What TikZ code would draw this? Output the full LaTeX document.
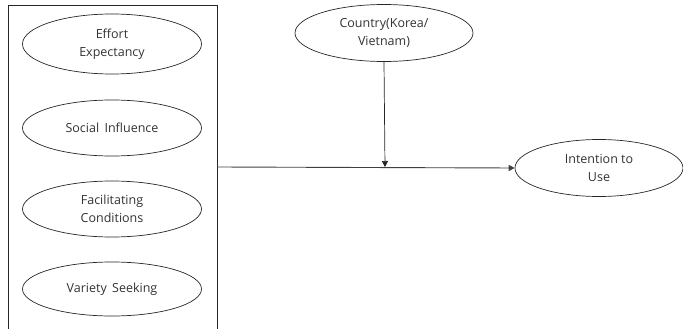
\documentclass[tikz,border=0pt]{standalone}
\usepackage{fontspec}
\setmainfont{Open Sans}
\usetikzlibrary{shapes.geometric,arrows.meta}
\begin{document}
\begin{tikzpicture}[x=1pt,y=-1pt,
  oval/.style={draw=black!85,ellipse,line width=0.7pt,inner sep=0pt,align=center,
    font=\fontsize{12.5}{18}\selectfont,text=black!80},
  link/.style={draw=black!75,line width=0.9pt},
  tip/.style={-{Triangle[length=6pt,width=6pt]}}]
\useasboundingbox (0,0) rectangle (683,329);
\draw[black!85,line width=0.7pt] (8,329) -- (8,5) -- (217,5) -- (217,329);
\node[oval,minimum width=179pt,minimum height=60pt] (ee) at (112,44) {Effort\\Expectancy};
\node[oval,minimum width=179pt,minimum height=56pt] (si) at (112,128) {Social\, Influence};
\node[oval,minimum width=179pt,minimum height=56pt] (fc) at (112,209) {Facilitating\\Conditions};
\node[oval,minimum width=179pt,minimum height=54pt] (vs) at (112,289) {Variety\, Seeking};
\node[oval,minimum width=178pt,minimum height=57pt] (ct) at (384,33) {Country(Korea/\\Vietnam)};
\node[oval,minimum width=168pt,minimum height=57pt] (iu) at (599,168) {Intention to\\Use};
\coordinate (boxR) at (217,167);
\coordinate (j) at (385,167);
\draw[link,tip] (boxR) -- (iu.west);
\draw[black!85,line width=0.7pt,tip] (ct.south) -- (j);
\end{tikzpicture}
\end{document}
